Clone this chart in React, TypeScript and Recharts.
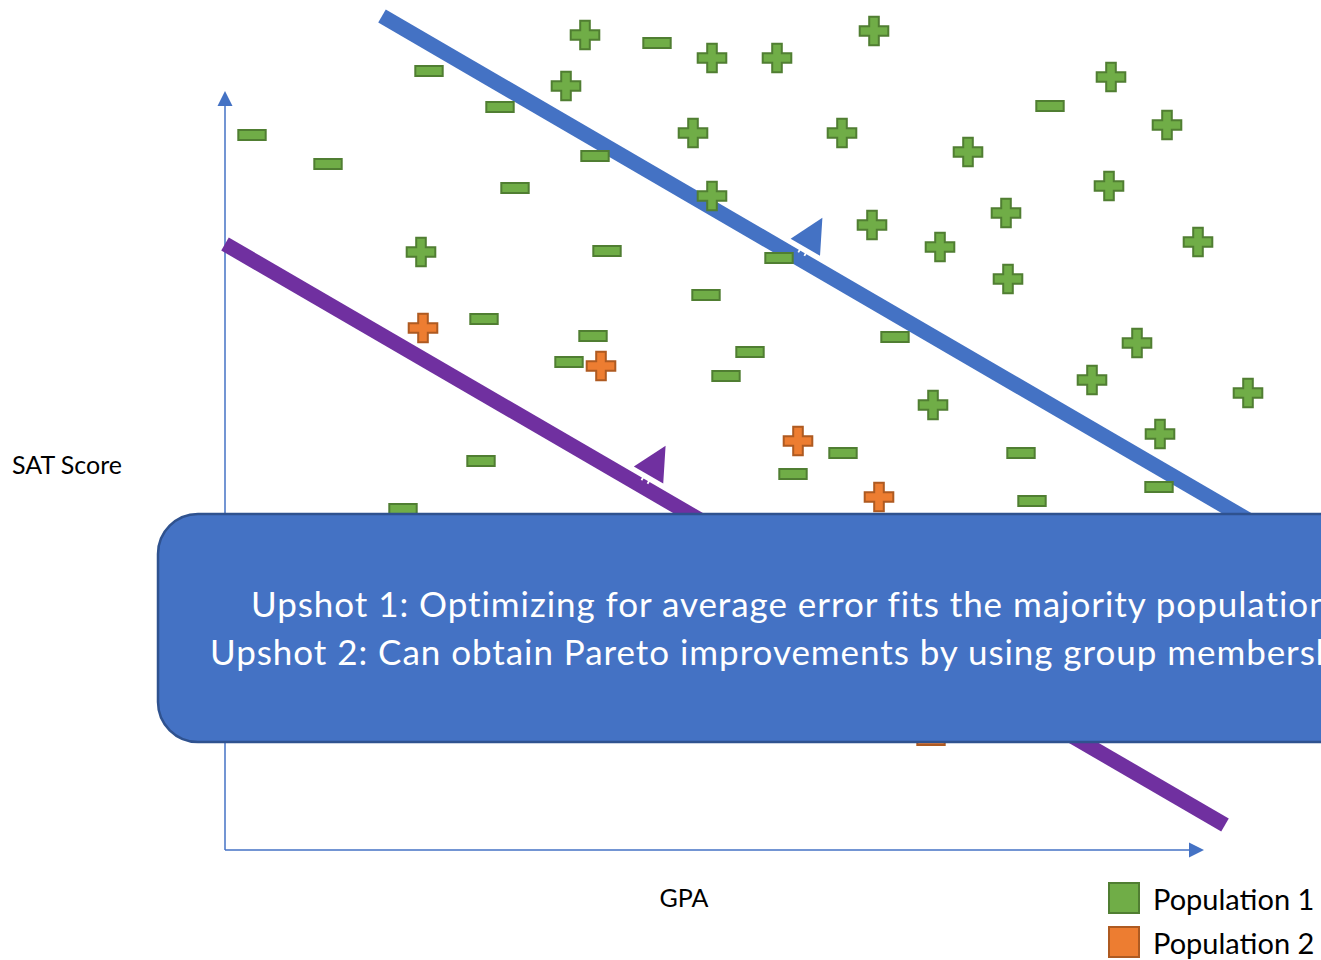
import React from "react";
import {
  Legend,
  ReferenceArea,
  ReferenceLine,
  Scatter,
  ScatterChart,
  XAxis,
  YAxis,
} from "recharts";

// positions measured from the point where the two axes meet
const pop1Plus = [
  { gpa: 360, sat: 815 }, { gpa: 487, sat: 792 }, { gpa: 552, sat: 792 },
  { gpa: 649, sat: 819 }, { gpa: 341, sat: 764 }, { gpa: 468, sat: 717 },
  { gpa: 617, sat: 717 }, { gpa: 743, sat: 698 }, { gpa: 886, sat: 773 },
  { gpa: 942, sat: 725 }, { gpa: 884, sat: 664 }, { gpa: 781, sat: 637 },
  { gpa: 647, sat: 625 }, { gpa: 715, sat: 603 }, { gpa: 783, sat: 571 },
  { gpa: 973, sat: 608 }, { gpa: 487, sat: 654 }, { gpa: 196, sat: 598 },
  { gpa: 912, sat: 507 }, { gpa: 867, sat: 470 }, { gpa: 1023, sat: 457 },
  { gpa: 708, sat: 445 }, { gpa: 935, sat: 416 },
];

const pop1Minus = [
  { gpa: 204, sat: 779 }, { gpa: 432, sat: 807 }, { gpa: 275, sat: 743 },
  { gpa: 27, sat: 715 }, { gpa: 103, sat: 686 }, { gpa: 370, sat: 694 },
  { gpa: 290, sat: 662 }, { gpa: 382, sat: 599 }, { gpa: 554, sat: 592 },
  { gpa: 481, sat: 555 }, { gpa: 259, sat: 531 }, { gpa: 368, sat: 514 },
  { gpa: 344, sat: 488 }, { gpa: 525, sat: 498 }, { gpa: 501, sat: 474 },
  { gpa: 670, sat: 513 }, { gpa: 825, sat: 744 }, { gpa: 256, sat: 389 },
  { gpa: 618, sat: 397 }, { gpa: 568, sat: 376 }, { gpa: 796, sat: 397 },
  { gpa: 807, sat: 349 }, { gpa: 934, sat: 363 }, { gpa: 178, sat: 341 },
];

const pop2Plus = [
  { gpa: 198, sat: 522 }, { gpa: 376, sat: 484 },
  { gpa: 573, sat: 409 }, { gpa: 654, sat: 353 },
];

const pop2Minus = [{ gpa: 706, sat: 110 }];

// the two classifiers, and where along each one the normal arrow sits
const majorityFit = [{ x: 157, y: 834 }, { x: 1075, y: 300 }];
const groupFit = [{ x: 0, y: 606 }, { x: 1000, y: 25 }];
const majorityArrowT = 0.454;
const groupArrowT = 0.417;

const gpaAxis = [{ x: 0, y: 0 }, { x: 979, y: 0 }];
const satAxis = [{ x: 0, y: 0 }, { x: 0, y: 759 }];

const upshots = [
  "Upshot 1: Optimizing for average error fits the majority population",
  "Upshot 2: Can obtain Pareto improvements by using group membership",
];
const upshotBox = { x1: -67, x2: 1194, y1: 108, y2: 336 };

const GREEN = "#70AD47";
const GREEN_EDGE = "#507E32";
const ORANGE = "#ED7D31";
const ORANGE_EDGE = "#AE5A21";
const BLUE = "#4472C4";
const BLUE_EDGE = "#2F528F";
const PURPLE = "#7030A0";
const FONT = "Lato, 'Open Sans', sans-serif";

const popStyle: Record<string, { fill: string; edge: string }> = {
  "Population 1": { fill: GREEN, edge: GREEN_EDGE },
  "Population 2": { fill: ORANGE, edge: ORANGE_EDGE },
};

const plusShape = (fill: string, edge: string) => (props: any) => {
  const { cx, cy } = props;
  const r = 14.3;
  const a = 4.8;
  const d = `M${cx - a},${cy - r}H${cx + a}V${cy - a}H${cx + r}V${cy + a}H${cx + a}V${cy + r}H${cx - a}V${cy + a}H${cx - r}V${cy - a}H${cx - a}Z`;
  return <path d={d} fill={fill} stroke={edge} strokeWidth={2} />;
};

const minusShape = (fill: string, edge: string) => (props: any) => {
  const { cx, cy } = props;
  return (
    <rect x={cx - 13.7} y={cy - 5} width={27.4} height={10} fill={fill} stroke={edge} strokeWidth={2} />
  );
};

const boundaryShape = (color: string, t: number) => (props: any) => {
  const { x1, y1, x2, y2 } = props;
  const dx = x2 - x1;
  const dy = y2 - y1;
  const len = Math.hypot(dx, dy);
  const ux = dx / len;
  const uy = dy / len;
  const nx = uy;
  const ny = -ux;
  const fx = x1 + dx * t;
  const fy = y1 + dy * t;
  const p = (a: number, b: number) => `${fx + nx * a + ux * b},${fy + ny * a + uy * b}`;
  return (
    <g>
      <line x1={x1} y1={y1} x2={x2} y2={y2} stroke={color} strokeWidth={15} />
      <line x1={fx + nx * 5 - ux * 3.5} y1={fy + ny * 5 - uy * 3.5} x2={fx + nx * 13 - ux * 3.5} y2={fy + ny * 13 - uy * 3.5} stroke="#fff" strokeWidth={1.8} />
      <line x1={fx + nx * 5 + ux * 3.5} y1={fy + ny * 5 + uy * 3.5} x2={fx + nx * 13 + ux * 3.5} y2={fy + ny * 13 + uy * 3.5} stroke="#fff" strokeWidth={1.8} />
      <polygon points={[p(47, 0), p(13, -17), p(13, 17)].join(" ")} fill={color} />
    </g>
  );
};

const axisShape = (label: string, dx: number, dy: number, anchor: string) => (props: any) => {
  const { x1, y1, x2, y2 } = props;
  const len = Math.hypot(x2 - x1, y2 - y1);
  const ux = (x2 - x1) / len;
  const uy = (y2 - y1) / len;
  const head = 15;
  const bx = x2 - ux * head;
  const by = y2 - uy * head;
  return (
    <g>
      <line x1={x1} y1={y1} x2={bx} y2={by} stroke={BLUE} strokeWidth={1.5} />
      <polygon
        points={`${x2},${y2} ${bx - uy * 7.5},${by + ux * 7.5} ${bx + uy * 7.5},${by - ux * 7.5}`}
        fill={BLUE}
      />
      <text x={x1 + dx} y={y1 + dy} textAnchor={anchor as any} fontFamily={FONT} fontSize={25} fill="#000">
        {label}
      </text>
    </g>
  );
};

const UpshotShape = (props: any) => {
  const { x, y, width, height } = props;
  return (
    <g>
      <rect x={x} y={y} width={width} height={height} rx={40} ry={40} fill={BLUE} stroke={BLUE_EDGE} strokeWidth={2.5} />
      <text x={x + 93} y={y + 103} fontFamily={FONT} fontSize={35} letterSpacing={0.95} fill="#fff">
        {upshots[0]}
      </text>
      <text x={x + 52} y={y + 151} fontFamily={FONT} fontSize={35} letterSpacing={0.95} fill="#fff">
        {upshots[1]}
      </text>
    </g>
  );
};

const LegendBox = (props: any) => {
  const entries = (props.payload || []).filter((e: any) => popStyle[e.value]);
  return (
    <div style={{ fontFamily: FONT, fontSize: 29, color: "#000" }}>
      {entries.map((entry: any) => {
        const st = popStyle[entry.value];
        return (
          <div key={entry.value} style={{ display: "flex", alignItems: "center", height: 44 }}>
            <svg width={32} height={32}>
              <rect x={1} y={1} width={30} height={30} fill={st.fill} stroke={st.edge} strokeWidth={2} />
            </svg>
            <span style={{ marginLeft: 13 }}>{entry.value}</span>
          </div>
        );
      })}
    </div>
  );
};

export default function App() {
  return (
    <div style={{ position: "absolute", left: 0, top: 0, background: "#fff" }}>
      <ScatterChart width={1321} height={960} margin={{ top: 0, right: 0, bottom: 0, left: 0 }}>
        <XAxis type="number" dataKey="gpa" domain={[-225, 1096]} hide allowDataOverflow />
        <YAxis type="number" dataKey="sat" domain={[-110, 850]} hide allowDataOverflow />
        <ReferenceLine segment={satAxis} ifOverflow="visible" zIndex={100} shape={axisShape("SAT Score", -213, -376, "start")} />
        <ReferenceLine segment={gpaAxis} ifOverflow="visible" zIndex={100} shape={axisShape("GPA", 459, 57, "middle")} />
        <ReferenceLine segment={majorityFit} ifOverflow="visible" zIndex={100} shape={boundaryShape(BLUE, majorityArrowT)} />
        <ReferenceLine segment={groupFit} ifOverflow="visible" zIndex={100} shape={boundaryShape(PURPLE, groupArrowT)} />
        <Scatter name="Population 1" data={pop1Plus} fill={GREEN} legendType="square" shape={plusShape(GREEN, GREEN_EDGE)} isAnimationActive={false} />
        <Scatter name="Population 1 (neg)" data={pop1Minus} fill={GREEN} legendType="none" shape={minusShape(GREEN, GREEN_EDGE)} isAnimationActive={false} />
        <Scatter name="Population 2" data={pop2Plus} fill={ORANGE} legendType="square" shape={plusShape(ORANGE, ORANGE_EDGE)} isAnimationActive={false} />
        <Scatter name="Population 2 (neg)" data={pop2Minus} fill={ORANGE} legendType="none" shape={minusShape(ORANGE, ORANGE_EDGE)} isAnimationActive={false} />
        <ReferenceArea {...upshotBox} ifOverflow="visible" zIndex={5000} shape={UpshotShape} />
        <Legend
          layout="vertical"
          align="center"
          verticalAlign="middle"
          wrapperStyle={{ left: 1108, top: 876 }}
          content={LegendBox}
        />
      </ScatterChart>
    </div>
  );
}
